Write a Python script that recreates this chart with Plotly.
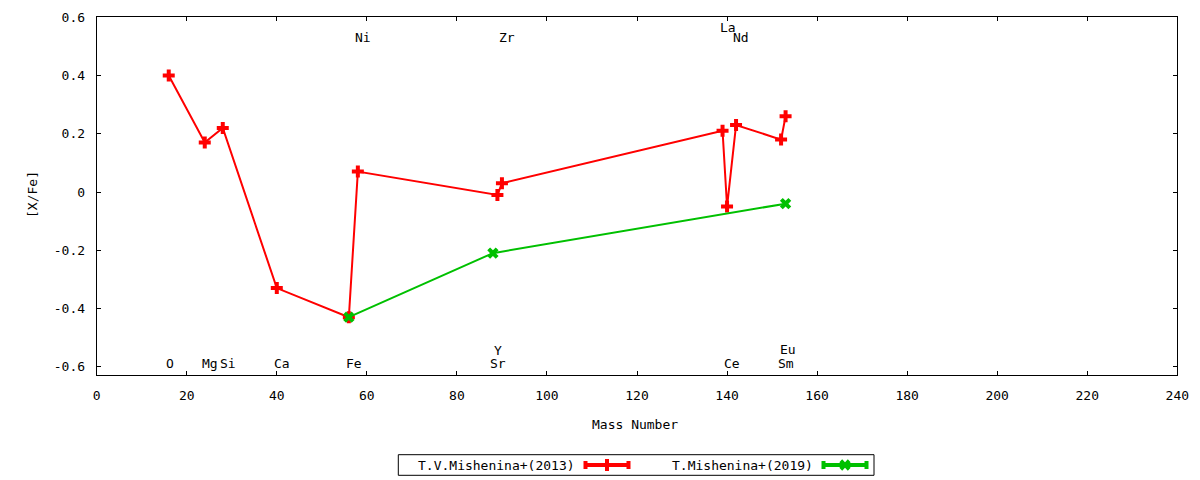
import plotly.graph_objects as go

# [X/Fe] against mass number, two studies
mass_2013 = [16, 24, 28, 40, 56, 58, 89, 90, 139, 140, 142, 152, 153]
xfe_2013 = [0.40, 0.17, 0.22, -0.33, -0.43, 0.07, -0.01, 0.03, 0.21, -0.05, 0.23, 0.18, 0.26]

mass_2019 = [56, 88, 153]
xfe_2019 = [-0.43, -0.21, -0.04]

# element labels: name, mass position, [X/Fe] height
elem_names = ["O", "Mg", "Si", "Ca", "Fe", "Sr", "Ce", "Sm", "Y", "Eu", "Ni", "Zr", "Nd", "La"]
elem_mass = [16, 24, 28, 40, 56, 88, 140, 152, 89, 152.5, 58, 90, 142, 139]
elem_y = [-0.59, -0.59, -0.59, -0.59, -0.59, -0.59, -0.59, -0.59,
          -0.545, -0.54, 0.532, 0.532, 0.532, 0.565]

x_ticks = list(range(0, 241, 20))
y_ticks = [-0.6, -0.4, -0.2, 0, 0.2, 0.4, 0.6]
y_ticktext = ["-0.6", "-0.4", "-0.2", "0", "0.2", "0.4", "0.6"]

legend_names = ["T.V.Mishenina+(2013)", "T.Mishenina+(2019)"]

RED = "#ff0000"
GREEN = "#00c000"
W, H = 1200, 480
# plot box in pixels
L, R, T, B = 96.7, 1177.3, 17.3, 375.3

fig = go.Figure()

fig.add_trace(go.Scatter(
	x=mass_2013, y=xfe_2013, mode="lines+markers", name=legend_names[0],
	line=dict(color=RED, width=2),
	marker=dict(symbol="cross", size=10, color=RED),
))
fig.add_trace(go.Scatter(
	x=mass_2019, y=xfe_2019, mode="lines+markers", name=legend_names[1],
	line=dict(color=GREEN, width=2),
	marker=dict(symbol="x", size=10, color=GREEN),
))

# legend samples drawn on a pixel overlay axis (gnuplot style: text then sample)
for cx, col, sym in [(607, RED, "cross"), (845, GREEN, "x")]:
	fig.add_trace(go.Scatter(
		x=[cx], y=[465], xaxis="x2", yaxis="y2", mode="markers",
		marker=dict(symbol=sym, size=10, color=col),
		error_x=dict(type="constant", value=21.5, thickness=4, width=4, color=col),
		hoverinfo="skip", showlegend=False,
	))

annotations = []
for name, m, yv in zip(elem_names, elem_mass, elem_y):
	annotations.append(dict(x=m, y=yv, xref="x", yref="y", text=name, showarrow=False,
		xanchor="left", yanchor="middle", xshift=-5))

annotations += [
	dict(x=577, y=465, xref="x2", yref="y2", text=legend_names[0], showarrow=False,
		xanchor="right", yanchor="middle"),
	dict(x=815, y=465, xref="x2", yref="y2", text=legend_names[1], showarrow=False,
		xanchor="right", yanchor="middle"),
	dict(x=635, y=424, xref="x2", yref="y2", text="Mass Number", showarrow=False,
		xanchor="center", yanchor="middle"),
	dict(x=32, y=195, xref="x2", yref="y2", text="[X/Fe]", showarrow=False,
		textangle=-90, xanchor="center", yanchor="middle"),
]

axis_style = dict(showline=True, linecolor="black", linewidth=1, mirror="ticks",
	ticks="inside", ticklen=4, tickcolor="black", showgrid=False, zeroline=False,
	automargin=False, ticklabelstandoff=8)

fig.update_layout(
	width=W, height=H, template="none",
	margin=dict(l=0, r=0, t=0, b=0),
	paper_bgcolor="white", plot_bgcolor="rgba(0,0,0,0)",
	font=dict(family="DejaVu Sans Mono", size=13, color="black"),
	showlegend=False,
	xaxis=dict(domain=[L / W, R / W], range=[0, 240], tickvals=x_ticks, anchor="y", **axis_style),
	yaxis=dict(domain=[1 - B / H, 1 - T / H], range=[-0.6295, 0.6], tickvals=y_ticks,
		ticktext=y_ticktext, anchor="x", **axis_style),
	xaxis2=dict(domain=[0, 1], range=[0, W], visible=False, anchor="y2", fixedrange=True),
	yaxis2=dict(domain=[0, 1], range=[H, 0], visible=False, anchor="x2", fixedrange=True),
	annotations=annotations,
	shapes=[dict(type="rect", xref="x2", yref="y2", x0=398.3, x1=874, y0=454.7, y1=475.3,
		line=dict(color="black", width=1), fillcolor="rgba(0,0,0,0)")],
)

# the page body has a default 8px margin; drop it so the figure sits at the window corner
fig.write_html("out.html", config={"displayModeBar": False},
	post_script="document.body.style.margin='0';")
